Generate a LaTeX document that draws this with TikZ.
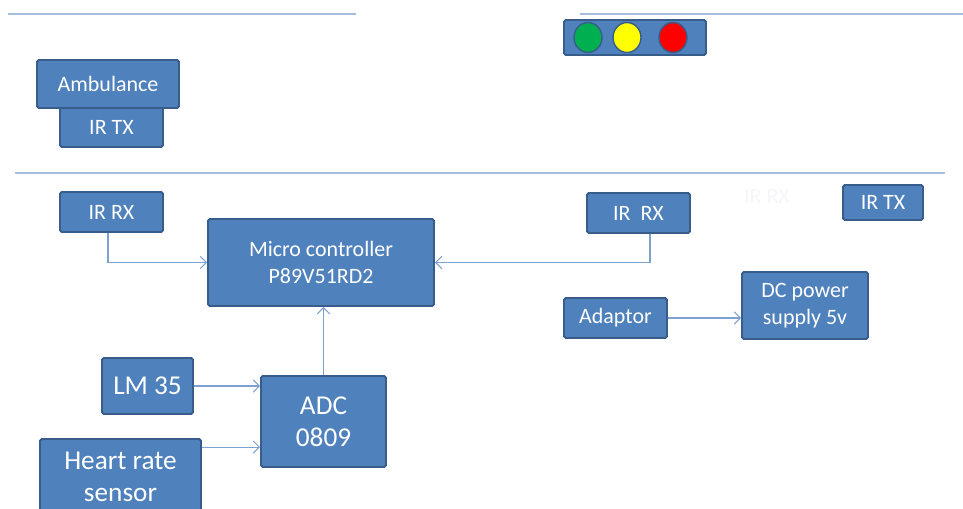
\documentclass[tikz,border=0pt]{standalone}
\usepackage{fontspec}
\setmainfont{Carlito}
\usetikzlibrary{positioning,arrows.meta}
\definecolor{boxfill}{HTML}{4F81BD}
\definecolor{boxline}{HTML}{385D8A}
\definecolor{wire}{HTML}{7DA1D0}
\definecolor{rule}{HTML}{A5BDDF}
\definecolor{ghost}{HTML}{F4F6FA}
\definecolor{lampgreen}{HTML}{00B050}
\definecolor{lampyellow}{HTML}{FFFF00}
\definecolor{lampred}{HTML}{FF0000}
\tikzset{
	blk/.style={draw=boxline, fill=boxfill, line width=1.1pt, rounded corners=1pt,
		text=white, font=\fontsize{12.5}{15}\selectfont, align=center, inner sep=0pt},
	bigblk/.style={blk, font=\fontsize{15.5}{18}\selectfont},
	wirearrow/.style={draw=wire, line width=0.6pt, -{Straight Barb[length=3.5pt,width=7pt]}},
	sep/.style={draw=rule, line width=1.2pt},
}
\begin{document}
\begin{tikzpicture}[x=0.02cm, y=-0.02cm]

	\useasboundingbox (0,0) rectangle (963,508);
	\clip (0,0) rectangle (963,508);

	% separating rules
	\coordinate (r1a) at (8,14);
	\coordinate (r1b) at (356,14);
	\coordinate (r2a) at (580,14);
	\coordinate (r2b) at (963,14);
	\coordinate (r3a) at (15,173);
	\coordinate (r3b) at (945,173);
	\draw[sep] (r1a) -- (r1b);
	\draw[sep] (r2a) -- (r2b);
	\draw[sep] (r3a) -- (r3b);

	% traffic light
	\node[blk, minimum width=2.84cm, minimum height=0.70cm] (signal) at (635,37.5) {};
	\draw[boxline, fill=lampgreen, line width=0.8pt] (588,37.5) ellipse (0.28cm and 0.30cm);
	\draw[boxline, fill=lampyellow, line width=0.8pt] (627,37.5) ellipse (0.28cm and 0.30cm);
	\draw[boxline, fill=lampred, line width=0.8pt] (673,37.5) ellipse (0.28cm and 0.30cm);

	% ambulance side
	\node[blk, minimum width=2.06cm, minimum height=0.80cm] (irtxa) at (111.5,127) {IR TX};
	\node[blk, minimum width=2.84cm, minimum height=0.96cm] (amb) at (108,84) {Ambulance};

	% signal side
	\node[blk, minimum width=2.06cm, minimum height=0.80cm] (irrxl) at (111.5,212) {IR RX};
	\node[blk, minimum width=4.52cm, minimum height=1.74cm] (micro) at (321,262.5) {Micro controller\\P89V51RD2};
	\node[blk, minimum width=2.06cm, minimum height=0.80cm] (irrxr) at (638.5,213) {IR\ \ RX};
	\node[text=ghost, font=\fontsize{12.5}{15}\selectfont] (ghostrx) at (767,196) {IR RX};
	\node[blk, minimum width=1.60cm, minimum height=0.70cm] (irtxb) at (883,202.5) {IR TX};
	\node[blk, minimum width=2.06cm, minimum height=0.80cm] (adapt) at (615.5,318) {Adaptor};
	\node[blk, minimum width=2.52cm, minimum height=1.34cm] (dc) at (805,305.5) {DC power\\supply 5v};
	\node[bigblk, minimum width=1.82cm, minimum height=1.12cm] (lm) at (147.5,386) {LM 35};
	\node[bigblk, minimum width=2.50cm, minimum height=1.82cm] (adc) at (323.5,421.5) {ADC\\0809};
	\node[bigblk, minimum width=3.22cm, minimum height=1.52cm] (heart) at (120.5,477) {Heart rate\\sensor};

	% connections
	\coordinate (rxl) at ([xshift=-0.07cm]irrxl.south);
	\coordinate (rxr) at ([xshift=0.23cm]irrxr.south);
	\coordinate (hrt) at ([yshift=-0.18cm]heart.north east);
	\draw[wirearrow] (rxl) |- (micro.west);
	\draw[wirearrow] (rxr) |- (micro.east);
	\draw[wirearrow] (adc.north) -- (adc.north |- micro.south);
	\draw[wirearrow] (lm.east) -- (lm.east -| adc.west);
	\draw[wirearrow] (hrt) -- (hrt -| adc.west);
	\draw[wirearrow] (adapt.east) -- (adapt.east -| dc.west);

\end{tikzpicture}
\end{document}
